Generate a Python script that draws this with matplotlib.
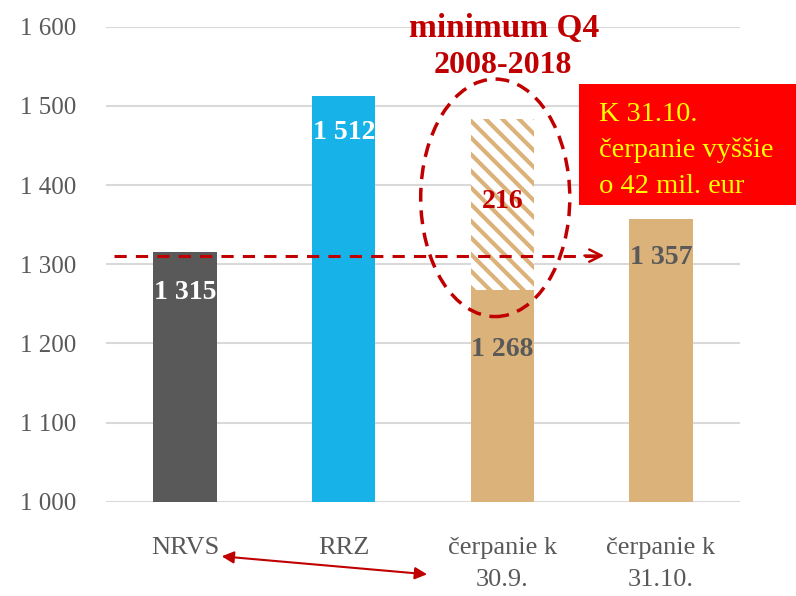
import matplotlib
matplotlib.use("Agg")
import matplotlib.pyplot as plt
from matplotlib.patches import Ellipse, FancyArrowPatch

# data
categories = ["NRVS", "RRZ", "čerpanie k\n30.9.", "čerpanie k\n31.10."]
values = [1315, 1512, 1268, 1357]
gap_value = 216
value_labels = ["1 315", "1 512", "1 268", "1 357"]
yticks = [1000, 1100, 1200, 1300, 1400, 1500, 1600]
ytick_labels = ["1 000", "1 100", "1 200", "1 300", "1 400", "1 500", "1 600"]

colors = ["#595959", "#17B2E8", "#DCB27B", "#DCB27B"]
dark_red = "#C00000"
grey = "#595959"

plt.rcParams["font.family"] = ["Liberation Serif", "DejaVu Serif"]
plt.rcParams["hatch.linewidth"] = 3
plt.rcParams["hatch.color"] = "#DCB27B"

fig = plt.figure(figsize=(7.96, 5.96), dpi=100)
ax = fig.add_axes([0.133, 0.158, 0.797, 0.797])

x = list(range(len(categories)))
ax.bar(x, [v - 1000 for v in values], bottom=1000, width=0.4, color=colors, zorder=2)
ax.bar(x[2], gap_value, bottom=values[2], width=0.4, color="white",
       edgecolor="#DCB27B", hatch="\\\\", linewidth=0, zorder=2)

ax.set_xlim(-0.5, 3.5)
ax.set_ylim(1000, 1600)
ax.set_yticks(yticks)
ax.set_yticklabels(ytick_labels, fontsize=18, color=grey)
ax.set_xticks(x)
ax.set_xticklabels(categories, fontsize=19, color=grey, linespacing=1.6)
ax.tick_params(axis="y", length=0, pad=21)
ax.tick_params(axis="x", length=0, pad=25)
ax.yaxis.grid(True, color="#D9D9D9", lw=1.5, zorder=0)
ax.set_axisbelow(True)
for s in ax.spines.values():
    s.set_visible(False)

# value labels
lbl_style = dict(ha="center", va="center", fontsize=20, fontweight="bold")
ax.text(0, values[0] - 50, value_labels[0], color="white", **lbl_style)
ax.text(1, values[1] - 46, value_labels[1], color="white", **lbl_style)
ax.text(2, values[2] - 76, value_labels[2], color=grey, **lbl_style)
ax.text(3, values[3] - 48, value_labels[3], color=grey, **lbl_style)
ax.text(2, values[2] + gap_value / 2 + 3, str(gap_value), color=dark_red, **lbl_style)

# dashed line with arrow from NRVS level
ax.plot([-0.45, 2.6], [values[0] - 4, values[0] - 4], color=dark_red, lw=2.2,
        ls=(0, (4, 3)), zorder=3)
ax.annotate("", xy=(2.66, values[0] - 4), xytext=(2.5, values[0] - 4),
            arrowprops=dict(arrowstyle="->", color=dark_red, lw=1.8,
                            mutation_scale=22), zorder=3)

# dashed ellipse
ax.add_patch(Ellipse((1.955, 1384), 0.94, 300, fill=False, edgecolor=dark_red,
                     lw=2.5, ls=(0, (4, 2.5)), zorder=4))

# titles
fig.text(0.633, 0.953, "minimum Q4", ha="center", va="center", fontsize=24,
         fontweight="bold", color=dark_red)
fig.text(0.632, 0.89, "2008-2018", ha="center", va="center", fontsize=23,
         fontweight="bold", color=dark_red)

# red box
fig.patches.append(plt.Rectangle((0.727, 0.656), 0.273, 0.203, transform=fig.transFigure,
                                 facecolor="#FF0000", edgecolor="none"))
fig.text(0.752, 0.748, "K 31.10.\nčerpanie vyššie\no 42 mil. eur", ha="left",
         va="center", fontsize=20.5, color="#FFFF00", linespacing=1.55)

# double arrow below
fig.patches.append(FancyArrowPatch((0.275, 0.067), (0.54, 0.036), transform=fig.transFigure,
                                   arrowstyle="<|-|>", mutation_scale=18,
                                   color=dark_red, lw=1.5))

fig.savefig("out.png", dpi=100)
